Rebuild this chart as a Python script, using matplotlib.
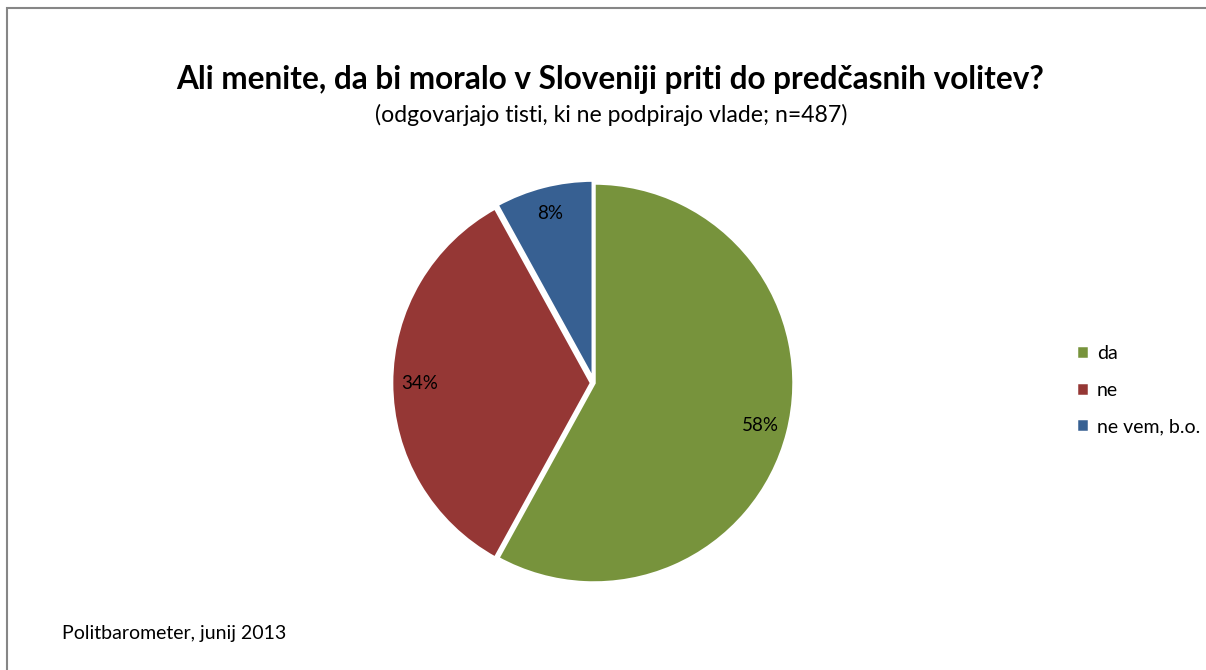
import matplotlib.pyplot as plt
from matplotlib.patches import Rectangle

plt.rcParams['font.family'] = ['Lato', 'DejaVu Sans']

labels = ["da", "ne", "ne vem, b.o."]
shares = [58, 34, 8]
colors = ["#77933C", "#953735", "#376092"]

title = "Ali menite, da bi moralo v Sloveniji priti do predčasnih volitev?"
subtitle = "(odgovarjajo tisti, ki ne podpirajo vlade; n=487)"
source = "Politbarometer, junij 2013"

W, H = 1206, 670
fig = plt.figure(figsize=(W / 100, H / 100), dpi=100)

# outer chart frame (right/bottom edges fall outside the picture)
fig.patches.append(Rectangle((7 / W, -0.05), 1.1, 1 - 8 / H + 0.05, transform=fig.transFigure,
                             fill=False, edgecolor="#868686", linewidth=1.5))

# pie axes: 500x500 px box centred on (594, 383)
cx, cy, box = 594, 383, 500
ax = fig.add_axes([(cx - box / 2) / W, (H - cy - box / 2) / H, box / W, box / H])
wedges, texts, autotexts = ax.pie(shares, colors=colors, startangle=90, counterclock=False,
                                  radius=1.0, explode=[0, 0.012, 0.015],
                                  autopct="%d%%", pctdistance=0.86,
                                  wedgeprops=dict(edgecolor="white", linewidth=2.5),
                                  textprops=dict(fontsize=13.5, color="black"))
ax.set_xlim(-1.25, 1.25)
ax.set_ylim(-1.25, 1.25)
ax.set_aspect("equal")
ax.axis("off")

fig.text(610 / W, 1 - 80 / H, title, ha="center", va="center", fontsize=22.7, fontweight="bold")
fig.text(611 / W, 1 - 115 / H, subtitle, ha="center", va="center", fontsize=16.6)
fig.text(62 / W, 1 - 633 / H, source, ha="left", va="center", fontsize=14)

fig.legend(wedges, labels, loc="center left", bbox_to_anchor=(1058 / W, 1 - 390 / H),
           frameon=False, fontsize=14, handlelength=0.7, handleheight=0.7,
           handletextpad=0.4, labelspacing=1.0)

fig.savefig("out.png", dpi=100)
